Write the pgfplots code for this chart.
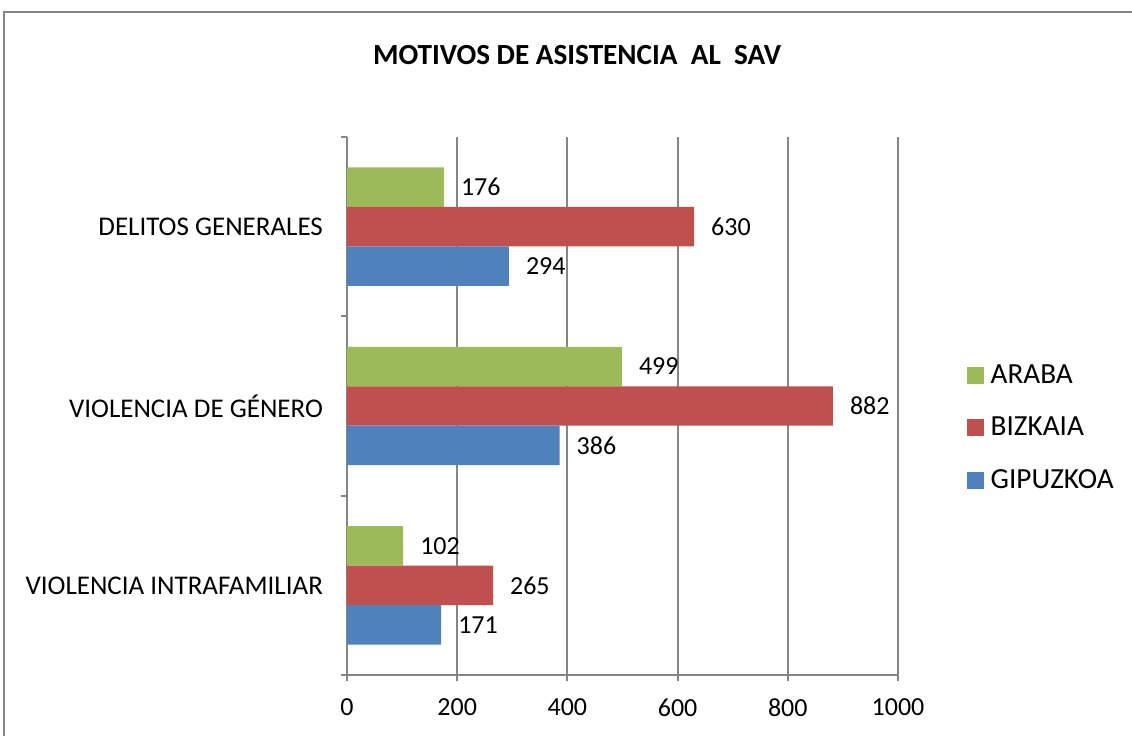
\documentclass[border=0pt]{standalone}
\usepackage{fontspec}
\setmainfont{Carlito}
\usepackage{pgfplots}
\pgfplotsset{compat=1.18}
\definecolor{cAraba}{HTML}{9BBB59}
\definecolor{cBizkaia}{HTML}{C0504D}
\definecolor{cGipuzkoa}{HTML}{4F81BD}
\definecolor{cGrid}{HTML}{868686}
\newcommand\lf{\fontsize{13}{15.6}\selectfont}
\newcommand\cf{\fontsize{13.5}{16.2}\selectfont}
\newcommand\gf{\fontsize{14.6}{17.5}\selectfont}

\begin{document}
\begin{tikzpicture}[x=1pt,y=1pt]
  % picture frame (1px = 0.5pt, origin at the axis' lower left corner)
  \path[use as bounding box] (-173.5,-30) rectangle (392.5,337.5);
  \draw[cGrid, line width=1pt] (-171.5,-40) -- (-171.5,331.5) -- (400,331.5);
  \node[font=\bfseries\gf] at (115,310) {MOTIVOS DE ASISTENCIA\ \ AL\ \ SAV};

  \begin{axis}[
      at={(0,0)}, anchor=south west,
      scale only axis, width=275.5pt, height=269pt,
      xmin=0, xmax=1000, ymin=-0.5, ymax=2.5,
      xtick={0,200,...,1000},
      ytick={-0.5,0.5,1.5,2.5}, yticklabels={},
      extra y ticks={0,1,2},
      extra y tick labels={VIOLENCIA INTRAFAMILIAR, VIOLENCIA DE GÉNERO, DELITOS GENERALES},
      extra y tick style={major tick length=0pt, tick style={draw=none},
        yticklabel style={xshift=-8.5pt, font=\cf}},
      axis x line*=bottom, axis y line*=left,
      axis line style={cGrid, line width=1pt},
      tick align=outside, major tick length=3pt,
      tick style={cGrid, line width=1pt},
      xmajorgrids, grid style={cGrid, line width=1pt},
      tick label style={font=\lf},
      /pgf/number format/assume math mode=true,
      /pgf/number format/1000 sep={},
      xticklabel style={yshift=-5.5pt},
      xbar, bar width=0.22,
      nodes near coords,
      every node near coord/.append style={anchor=west, xshift=5pt, font=\lf, text=black},
      legend style={at={(1.113,0.459)}, anchor=west, draw=none, fill=none,
        font=\gf, row sep=11.5pt, legend cell align=left,
        /tikz/every odd column/.append style={column sep=1.5pt}},
      legend image code/.code={\fill[#1] (0pt,-4.25pt) rectangle (8.5pt,4.25pt);},
    ]
    \addplot[fill=cAraba, draw=none, bar shift=0.22]
      coordinates {(102,0) (499,1) (176,2)};
    \addplot[fill=cBizkaia, draw=none, bar shift=0]
      coordinates {(265,0) (882,1) (630,2)};
    \addplot[fill=cGipuzkoa, draw=none, bar shift=-0.22]
      coordinates {(171,0) (386,1) (294,2)};
    \legend{ARABA, BIZKAIA, GIPUZKOA}
  \end{axis}
\end{tikzpicture}
\end{document}
